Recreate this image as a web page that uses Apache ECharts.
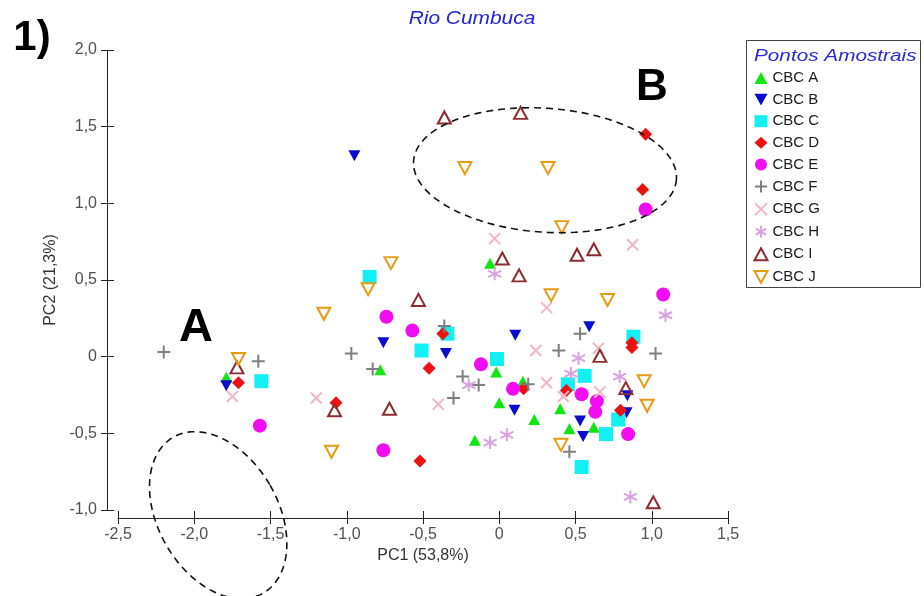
<!DOCTYPE html>
<html>
<head>
<meta charset="utf-8">
<title>Rio Cumbuca – PCA</title>
<script src="https://cdn.jsdelivr.net/npm/echarts@6/dist/echarts.min.js"></script>
<style>
  html, body { margin: 0; padding: 0; background: #fff; }
  #chart { width: 924px; height: 596px; }
</style>
</head>
<body>
<div id="chart"></div>
<script>
// PCA scores (PC1, PC2) per sampling point, river Cumbuca
const seriesNames = ['CBC A', 'CBC B', 'CBC C', 'CBC D', 'CBC E', 'CBC F', 'CBC G', 'CBC H', 'CBC I', 'CBC J'];

const cbcA = [[-1.79,-0.135],[-0.06,0.61],[-0.78,-0.085],[-0.02,-0.10],[0.155,-0.16],[0.0,-0.30],[0.23,-0.41],[-0.16,-0.545],[0.40,-0.34],[0.46,-0.47],[0.62,-0.46]];
const cbcB = [[-1.79,-0.19],[-0.95,1.31],[-0.76,0.09],[-0.35,0.02],[0.105,0.14],[0.10,-0.35],[0.59,0.195],[0.84,-0.255],[0.835,-0.365],[0.53,-0.42],[0.55,-0.52]];
const cbcC = [[-1.56,-0.16],[-0.85,0.52],[-0.34,0.15],[-0.51,0.04],[-0.015,-0.015],[0.88,0.13],[0.56,-0.125],[0.45,-0.18],[0.78,-0.41],[0.70,-0.505],[0.54,-0.72]];
const cbcD = [[-1.71,-0.17],[-1.07,-0.30],[-0.37,0.15],[-0.46,-0.075],[0.16,-0.21],[-0.52,-0.68],[0.96,1.45],[0.94,1.09],[0.87,0.09],[0.87,0.06],[0.44,-0.22],[0.795,-0.35]];
const cbcE = [[-1.57,-0.45],[-0.74,0.26],[-0.57,0.17],[-0.12,-0.05],[0.09,-0.21],[-0.76,-0.61],[0.96,0.96],[1.075,0.405],[0.54,-0.245],[0.64,-0.29],[0.63,-0.36],[0.845,-0.505]];
const cbcF = [[-2.20,0.03],[-1.58,-0.03],[-0.97,0.02],[-0.83,-0.08],[-0.36,0.20],[-0.24,-0.13],[-0.135,-0.185],[-0.30,-0.27],[0.19,-0.18],[0.39,0.04],[0.53,0.15],[1.025,0.02],[0.46,-0.62]];
const cbcG = [[-1.75,-0.26],[-1.20,-0.27],[-0.03,0.77],[0.31,0.32],[0.24,0.04],[-0.40,-0.31],[0.31,-0.17],[0.875,0.73],[0.65,0.055],[0.66,-0.23],[0.42,-0.26]];
const cbcH = [[-0.03,0.54],[-0.20,-0.185],[-0.06,-0.56],[0.05,-0.51],[1.09,0.27],[0.52,-0.01],[0.47,-0.11],[0.79,-0.13],[0.86,-0.915]];
const cbcI = [[-1.72,-0.07],[-1.08,-0.35],[0.02,0.64],[0.13,0.53],[-0.53,0.37],[-0.72,-0.34],[0.51,0.665],[0.62,0.70],[0.66,0.005],[0.83,-0.205],[1.01,-0.95],[-0.36,1.56],[0.14,1.59]];
const cbcJ = [[-1.71,-0.015],[-1.15,0.28],[-1.10,-0.62],[-0.71,0.61],[-0.86,0.44],[0.34,0.40],[0.41,0.845],[0.71,0.37],[0.95,-0.16],[0.97,-0.32],[0.405,-0.575],[-0.225,1.23],[0.32,1.23]];

const seriesData = [cbcA, cbcB, cbcC, cbcD, cbcE, cbcF, cbcG, cbcH, cbcI, cbcJ];

// axis ranges (tick step 0.5)
const xRange = [-2.5, 1.5];
const yRange = [-1.0, 2.0];
const tickStep = 0.5;

// group ellipses, in data units (tilt in degrees, clockwise on screen)
const groupA = { cx: -1.843, cy: -1.034, rx: 0.393, ry: 0.587, tilt: -30 };
const groupB = { cx: 0.30, cy: 1.216, rx: 0.864, ry: 0.404, tilt: 4 };

// marker styles
const PATH_DOWN = 'path://M0,0H12L6,11Z';
const PATH_PLUS = 'path://M6,0V12M0,6H12';
const PATH_CROSS = 'path://M0,0L12,12M0,12L12,0';
const PATH_STAR = 'path://M6,0V12M0.8,3L11.2,9M0.8,9L11.2,3';

const markers = [
  { symbol: 'triangle', size: [12, 11], fill: '#12e612' },
  { symbol: PATH_DOWN, size: [12, 11], fill: '#0b0bd0' },
  { symbol: 'rect', size: 14, fill: '#12f0f4' },
  { symbol: 'diamond', size: 13, fill: '#ee1111' },
  { symbol: 'circle', size: 14, fill: '#f20cf2' },
  { symbol: PATH_PLUS, size: 13, stroke: '#7f7f7f' },
  { symbol: PATH_CROSS, size: 11, stroke: '#f3b6c6' },
  { symbol: PATH_STAR, size: 13, stroke: '#d9a3e0' },
  { symbol: 'triangle', size: [13, 12], stroke: '#8e2b30' },
  { symbol: PATH_DOWN, size: [13, 12], stroke: '#e89c14' }
];

const FONT = '"Liberation Sans", Arial, sans-serif';
const fmt = v => (Math.abs(v) < 1e-9 ? '0' : v.toFixed(1).replace('.', ','));

const chart = echarts.init(document.getElementById('chart'), null, { renderer: 'canvas' });

function axisPair(isX, range, offset, name) {
  const common = {
    type: 'value',
    min: range[0], max: range[1], interval: tickStep,
    position: isX ? 'bottom' : 'left',
    offset: offset,
    splitLine: { show: false }
  };
  const main = Object.assign({}, common, {
    name: name,
    nameLocation: 'middle',
    nameGap: isX ? 25 : 48,
    nameTextStyle: { fontFamily: FONT, fontSize: 16, color: '#333' },
    axisLine: { show: true, onZero: false, lineStyle: { color: '#222', width: 1 } },
    axisTick: { show: true, inside: false, length: 6, lineStyle: { color: '#222' } },
    axisLabel: { show: true, margin: isX ? 9 : 10, fontFamily: FONT, fontSize: 16, color: '#505050', formatter: fmt }
  });
  // inner half of the crossing ticks
  const inner = Object.assign({}, common, {
    axisLine: { show: false, onZero: false },
    axisTick: { show: true, inside: true, length: 7, lineStyle: { color: '#222' } },
    axisLabel: { show: false }
  });
  return [main, inner];
}

const series = seriesNames.map((name, i) => {
  const m = markers[i];
  const itemStyle = m.stroke
    ? { color: 'none', borderColor: m.stroke, borderWidth: 2, opacity: 1 }
    : { color: m.fill, borderWidth: 0, opacity: 1 };
  return {
    name: name,
    type: 'scatter',
    xAxisIndex: 0,
    yAxisIndex: 0,
    symbol: m.symbol,
    symbolSize: m.size,
    itemStyle: itemStyle,
    emphasis: { disabled: true },
    data: seriesData[i]
  };
});

chart.setOption({
  animation: false,
  backgroundColor: '#ffffff',
  grid: { left: 118, right: 196, top: 50, bottom: 86, containLabel: false },
  xAxis: axisPair(true, xRange, 8, 'PC1 (53,8%)'),
  yAxis: axisPair(false, yRange, 11, 'PC2 (21,3%)'),
  legend: {
    orient: 'vertical',
    left: 752,
    top: 70,
    padding: 0,
    itemWidth: 13,
    itemHeight: 12,
    itemGap: 5.6,
    selectedMode: false,
    textStyle: { fontFamily: FONT, fontSize: 15, lineHeight: 16, color: '#1a1a1a' },
    data: seriesNames
  },
  series: series
});

function ellipsePolygon(e) {
  const c = chart.convertToPixel({ gridIndex: 0 }, [e.cx, e.cy]);
  const px = chart.convertToPixel({ gridIndex: 0 }, [e.cx + e.rx, e.cy]);
  const py = chart.convertToPixel({ gridIndex: 0 }, [e.cx, e.cy + e.ry]);
  const a = px[0] - c[0];
  const b = c[1] - py[1];
  const ang = e.tilt * Math.PI / 180;
  const pts = [];
  for (let i = 0; i < 120; i++) {
    const t = 2 * Math.PI * i / 120;
    const lx = a * Math.cos(t), ly = b * Math.sin(t);
    pts.push([c[0] + lx * Math.cos(ang) - ly * Math.sin(ang), c[1] + lx * Math.sin(ang) + ly * Math.cos(ang)]);
  }
  return {
    type: 'polygon',
    silent: true,
    shape: { points: pts },
    style: { fill: 'none', stroke: '#111', lineWidth: 1.6, lineDash: [7, 5] },
    z: 10
  };
}

function label(text, x, y, size, opts) {
  return Object.assign({
    type: 'text',
    silent: true,
    x: x, y: y,
    z: 20,
    style: {
      text: text,
      x: 0, y: 0,
      font: (opts && opts.font) || ('bold ' + size + 'px ' + FONT),
      fill: (opts && opts.fill) || '#000',
      align: (opts && opts.align) || 'center',
      textAlign: (opts && opts.align) || 'center',
      verticalAlign: 'middle',
      textVerticalAlign: 'middle'
    }
  }, (opts && opts.scaleX) ? { scaleX: opts.scaleX } : {});
}

chart.setOption({
  graphic: [
    ellipsePolygon(groupA),
    ellipsePolygon(groupB),
    // legend frame and heading
    {
      type: 'rect', silent: true, z: 0,
      shape: { x: 746.5, y: 40.5, width: 174, height: 247 },
      style: { fill: '#fff', stroke: '#444', lineWidth: 1 }
    },
    label('Pontos Amostrais', 754, 56, 17, { font: 'italic 17px ' + FONT, fill: '#2a2ad2', align: 'left', scaleX: 1.22 }),
    label('Rio Cumbuca', 472, 19, 19, { font: 'italic 19px ' + FONT, fill: '#2323d6', scaleX: 1.1 }),
    label('1)', 32, 38, 42),
    label('A', 196, 328, 47),
    label('B', 652, 88, 44)
  ]
});
</script>
</body>
</html>
